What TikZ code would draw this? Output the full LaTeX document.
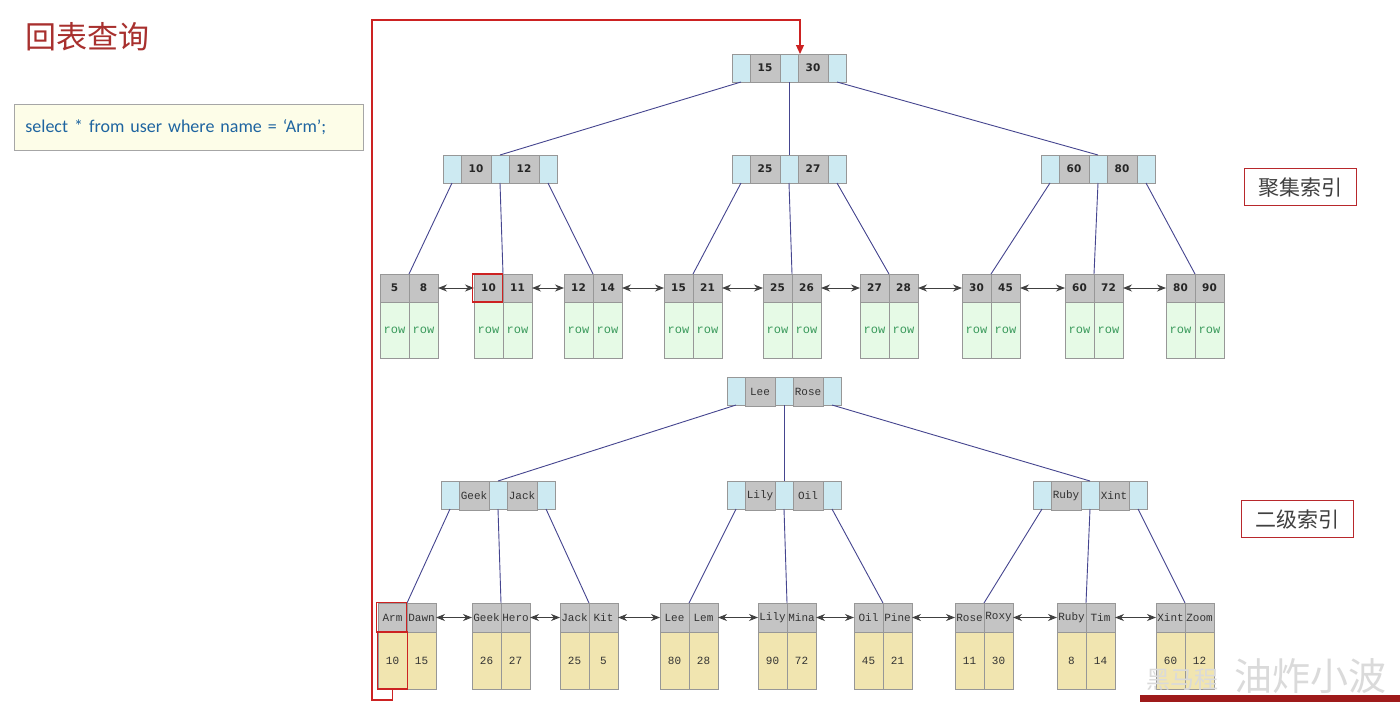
\documentclass[tikz,border=0pt]{standalone}
\usepackage{fontspec}
\newfontfamily\cjk{Noto Sans CJK SC}
\newfontfamily\qfont{Carlito}
\newfontfamily\numfont{DejaVu Sans}
\newfontfamily\monofont{Liberation Mono}
\usetikzlibrary{arrows.meta,calc}
\definecolor{cellblue}{HTML}{CDEAF2}
\definecolor{cellgray}{HTML}{C4C4C4}
\definecolor{cellborder}{HTML}{979797}
\definecolor{rowgreen}{HTML}{E6FAE6}
\definecolor{rowtext}{HTML}{3A9A5C}
\definecolor{datayellow}{HTML}{F1E5B0}
\definecolor{edgecol}{HTML}{45458F}
\definecolor{titlered}{HTML}{A8302E}
\definecolor{hlred}{HTML}{CC2222}
\definecolor{qblue}{HTML}{1E64A0}
\definecolor{qfill}{HTML}{FDFDE8}
\definecolor{labred}{HTML}{B8282C}
\definecolor{labtext}{HTML}{404040}
\definecolor{wmgray}{HTML}{DADADA}
\definecolor{wmred}{HTML}{9E1A1A}
\tikzset{
  cellbase/.style={draw=cellborder, line width=0.8pt, inner sep=0pt, outer sep=0pt, anchor=north west, minimum height=28pt},
  bcell/.style={cellbase, fill=cellblue, minimum width=18pt},
  gcell/.style={cellbase, fill=cellgray, minimum width=30pt},
  numtxt/.style={font=\numfont\bfseries\fontsize{10.5}{10.5}\selectfont, text=black!85},
  montxt/.style={font=\monofont\fontsize{11}{11}\selectfont, text=black!80},
  lhead/.style={cellbase, fill=cellgray, minimum width=29pt},
  rowcell/.style={cellbase, fill=rowgreen, minimum width=29pt, minimum height=56pt, font=\monofont\fontsize{12}{12}\selectfont, text=rowtext},
  datacell/.style={cellbase, fill=datayellow, minimum width=29pt, minimum height=57pt, font=\monofont\fontsize{11}{11}\selectfont, text=black!80},
  edge/.style={draw=edgecol, line width=0.9pt},
  dbl/.style={draw=black!75, line width=0.9pt, {Stealth[length=9pt,width=7pt]}-{Stealth[length=9pt,width=7pt]}},
  hlbox/.style={draw=hlred, line width=1.6pt, inner sep=0pt, outer sep=0pt, minimum width=30pt},
  redline/.style={draw=hlred, line width=1.2pt},
  labelbox/.style={draw=labred, line width=1.3pt, anchor=north west, minimum width=112pt, minimum height=37pt, inner sep=0pt, font=\cjk\fontsize{21}{21}\selectfont, text=labtext},
}
% internal node: name, x, y, a, b, text style
\newcommand\innode[6]{%
  \node[bcell] (#1-l) at (#2,#3) {};
  \node[gcell,#6] (#1-a) at (#1-l.north east) {#4};
  \node[bcell] (#1-m) at (#1-a.north east) {};
  \node[gcell,#6] (#1-b) at (#1-m.north east) {#5};
  \node[bcell] (#1-r) at (#1-b.north east) {};
}
% clustered leaf: name, x, a, b
\newcommand\cleaf[4]{%
  \node[lhead,numtxt] (#1-a) at (#2,274) {#3};
  \node[lhead,numtxt] (#1-b) at (#1-a.north east) {#4};
  \node[rowcell] (#1-c) at (#1-a.south west) {row};
  \node[rowcell] (#1-d) at (#1-b.south west) {row};
}
% secondary leaf: name, x, a, b, c, d
\newcommand\sleaf[6]{%
  \node[lhead,montxt,minimum height=29pt] (#1-a) at (#2,603) {#3};
  \node[lhead,montxt,minimum height=29pt] (#1-b) at (#1-a.north east) {#4};
  \node[datacell] (#1-c) at (#1-a.south west) {#5};
  \node[datacell] (#1-d) at (#1-b.south west) {#6};
}
\begin{document}
\begin{tikzpicture}[x=1pt,y=-1pt]
\useasboundingbox (0,0) rectangle (1400,702);
\fill[white] (0,0) rectangle (1400,702);

% title and query
\node[anchor=west, text=titlered, font=\cjk\fontsize{31}{31}\selectfont, inner sep=0pt] (title) at (25,37) {回表查询};
\node[draw=black!35, fill=qfill, line width=0.8pt, anchor=north west, minimum height=46pt, text width=327pt, inner xsep=11pt, align=left, font=\qfont\fontsize{18}{18}\selectfont, text=qblue] (query) at (14,104) {select * from user where name = ‘Arm’;};

% clustered index
\innode{croot}{732}{54}{15}{30}{numtxt}
\innode{cl}{443}{155}{10}{12}{numtxt}
\innode{cm}{732}{155}{25}{27}{numtxt}
\innode{cr}{1041}{155}{60}{80}{numtxt}
\cleaf{c1}{380}{5}{8}
\cleaf{c2}{474}{10}{11}
\cleaf{c3}{564}{12}{14}
\cleaf{c4}{664}{15}{21}
\cleaf{c5}{763}{25}{26}
\cleaf{c6}{860}{27}{28}
\cleaf{c7}{962}{30}{45}
\cleaf{c8}{1065}{60}{72}
\cleaf{c9}{1166}{80}{90}

\draw[edge] (croot-l.south) -- (cl-m.north);
\draw[edge] (croot-m.south) -- (cm-m.north);
\draw[edge] (croot-r.south) -- (cr-m.north);
\draw[edge] (cl-l.south) -- (c1-a.north east);
\draw[edge] (cl-m.south) -- (c2-a.north east);
\draw[edge] (cl-r.south) -- (c3-a.north east);
\draw[edge] (cm-l.south) -- (c4-a.north east);
\draw[edge] (cm-m.south) -- (c5-a.north east);
\draw[edge] (cm-r.south) -- (c6-a.north east);
\draw[edge] (cr-l.south) -- (c7-a.north east);
\draw[edge] (cr-m.south) -- (c8-a.north east);
\draw[edge] (cr-r.south) -- (c9-a.north east);
\foreach \p/\q in {c1/c2,c2/c3,c3/c4,c4/c5,c5/c6,c6/c7,c7/c8,c8/c9}
  \draw[dbl] (\p-b.east) -- (\q-a.west);

% secondary index
\innode{sroot}{727}{377}{Lee}{Rose}{montxt,minimum height=29pt}
\innode{sl}{441}{481}{Geek}{Jack}{montxt,minimum height=29pt}
\innode{sm}{727}{481}{Lily}{Oil}{montxt,minimum height=29pt}
\innode{sr}{1033}{481}{Ruby}{Xint}{montxt,minimum height=29pt}
\sleaf{s1}{378}{Arm}{Dawn}{10}{15}
\sleaf{s2}{472}{Geek}{Hero}{26}{27}
\sleaf{s3}{560}{Jack}{Kit}{25}{5}
\sleaf{s4}{660}{Lee}{Lem}{80}{28}
\sleaf{s5}{758}{Lily}{Mina}{90}{72}
\sleaf{s6}{854}{Oil}{Pine}{45}{21}
\sleaf{s7}{955}{Rose}{Roxy}{11}{30}
\sleaf{s8}{1057}{Ruby}{Tim}{8}{14}
\sleaf{s9}{1156}{Xint}{Zoom}{60}{12}

\draw[edge] (sroot-l.south) -- (sl-m.north);
\draw[edge] (sroot-m.south) -- (sm-m.north);
\draw[edge] (sroot-r.south) -- (sr-m.north);
\draw[edge] (sl-l.south) -- (s1-a.north east);
\draw[edge] (sl-m.south) -- (s2-a.north east);
\draw[edge] (sl-r.south) -- (s3-a.north east);
\draw[edge] (sm-l.south) -- (s4-a.north east);
\draw[edge] (sm-m.south) -- (s5-a.north east);
\draw[edge] (sm-r.south) -- (s6-a.north east);
\draw[edge] (sr-l.south) -- (s7-a.north east);
\draw[edge] (sr-m.south) -- (s8-a.north east);
\draw[edge] (sr-r.south) -- (s9-a.north east);
\foreach \p/\q in {s1/s2,s2/s3,s3/s4,s4/s5,s5/s6,s6/s7,s7/s8,s8/s9}
  \draw[dbl] (\p-b.east) -- (\q-a.west);

% highlights
\node[hlbox, minimum height=28pt] (h1) at ($(c2-a.center)+(-1,0)$) {};
\node[hlbox, minimum height=30pt] (h2) at ($(s1-a.center)+(-1,0)$) {};
\node[hlbox, minimum height=57pt] (h3) at (s1-c.center) {};

% red back-to-table path
\coordinate (rbl) at (372,700);
\coordinate (rtl) at (372,20);
\draw[redline, -{Triangle[length=9pt,width=8pt]}] (h3.south) |- (rbl) -- (rtl) -| ([xshift=2pt]croot-m.north east);

% labels
\node[labelbox] (lab1) at (1244,168) {聚集索引};
\node[labelbox] (lab2) at (1241,500) {二级索引};

% watermark
\fill[wmred] (1140,695) rectangle (1400,702);
\node[text=wmgray, font=\cjk\fontsize{24}{24}\selectfont, anchor=west, inner sep=0pt] (wm1) at (1146,680) {黑马程};
\node[text=wmgray, font=\cjk\fontsize{38}{38}\selectfont, anchor=west, inner sep=0pt] (wm2) at (1234,676) {油炸小波};
\end{tikzpicture}
\end{document}
